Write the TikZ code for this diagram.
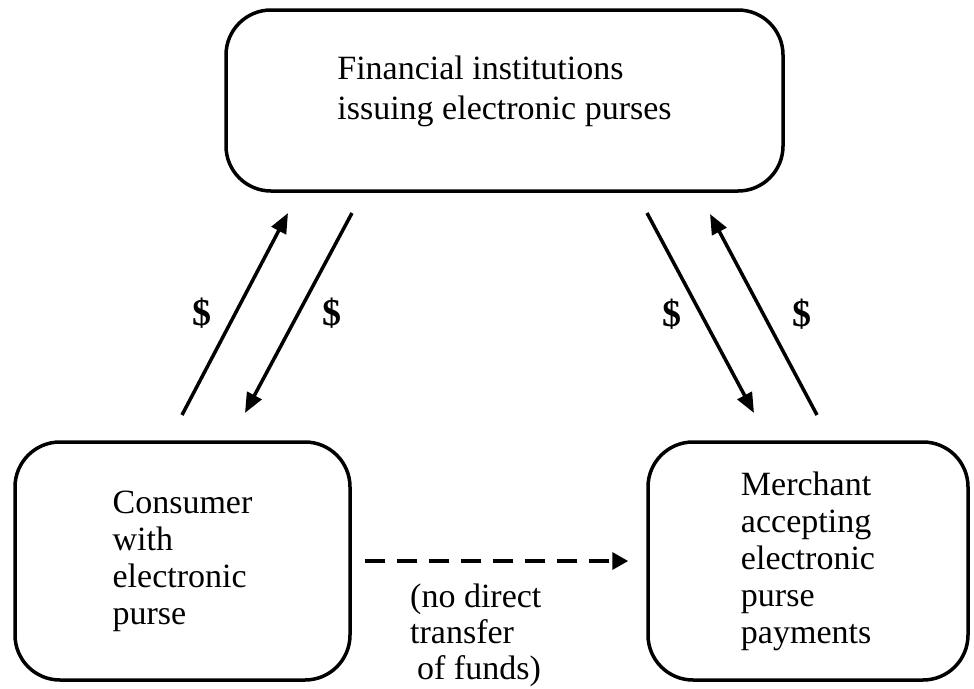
\documentclass[tikz,border=0pt]{standalone}
\usepackage{fontspec}
\setmainfont{Liberation Serif}
\usepackage{tikz}
\usetikzlibrary{arrows.meta}

\tikzset{
	purse/.style = {draw = black, line width = 3.5pt, rounded corners = 45pt, inner sep = 0pt, align = left, font = \fontsize{34}{37}\selectfont},
	cash/.style = {font = \fontsize{38}{40}\selectfont\bfseries},
	flow/.style = {line width = 3.5pt, -{Triangle[length = 20pt, width = 16pt]}}
}

\begin{document}
\begin{tikzpicture}[x = 1pt, y = -1pt]
	\useasboundingbox (0,0) rectangle (974,688);
	
	% the three parties
	\node[purse, minimum width = 557pt, minimum height = 181pt] (bank) at (504.5,100.5) {};
	\node[align = left, inner sep = 0pt, font = \fontsize{34}{40}\selectfont] (banktext) at ([yshift = 9pt]bank.center) {Financial institutions\\issuing electronic purses};
	\node[purse, minimum width = 335pt, minimum height = 238pt] (consumer) at (182.5,561) {Consumer\\with\\electronic\\purse};
	\node[purse, minimum width = 320pt, minimum height = 238pt] (merchant) at (808,561) {Merchant\\accepting\\electronic\\purse\\payments};
	
	% ends of the money flows
	\coordinate (cup0) at (182,415);
	\coordinate (cup1) at (288,213);
	\coordinate (cdn0) at (352,213);
	\coordinate (cdn1) at (245,413);
	\coordinate (mdn0) at (647,213);
	\coordinate (mdn1) at (754,413);
	\coordinate (mup0) at (817,415);
	\coordinate (mup1) at (710,214);
	
	\draw[flow] (cup0) -- (cup1);
	\draw[flow] (cdn0) -- (cdn1);
	\draw[flow] (mdn0) -- (mdn1);
	\draw[flow] (mup0) -- (mup1);
	
	\node[cash] (cashcup) at (202,313) {\$};
	\node[cash] (cashcdn) at (332,313) {\$};
	\node[cash] (cashmdn) at (672,314) {\$};
	\node[cash] (cashmup) at (802,314) {\$};
	
	\draw[line width = 3.5pt, dash pattern = on 20pt off 12pt, -{Triangle[length = 16pt, width = 17pt]}] ([xshift = 13pt]consumer.east) -- ([xshift = -18pt]merchant.west);
	\node[anchor = north west, inner sep = 0pt, align = left, font = \fontsize{34}{36}\selectfont] (nofunds) at (410,584) {(no direct\\transfer\\\hspace*{7pt}of funds)};
\end{tikzpicture}
\end{document}
